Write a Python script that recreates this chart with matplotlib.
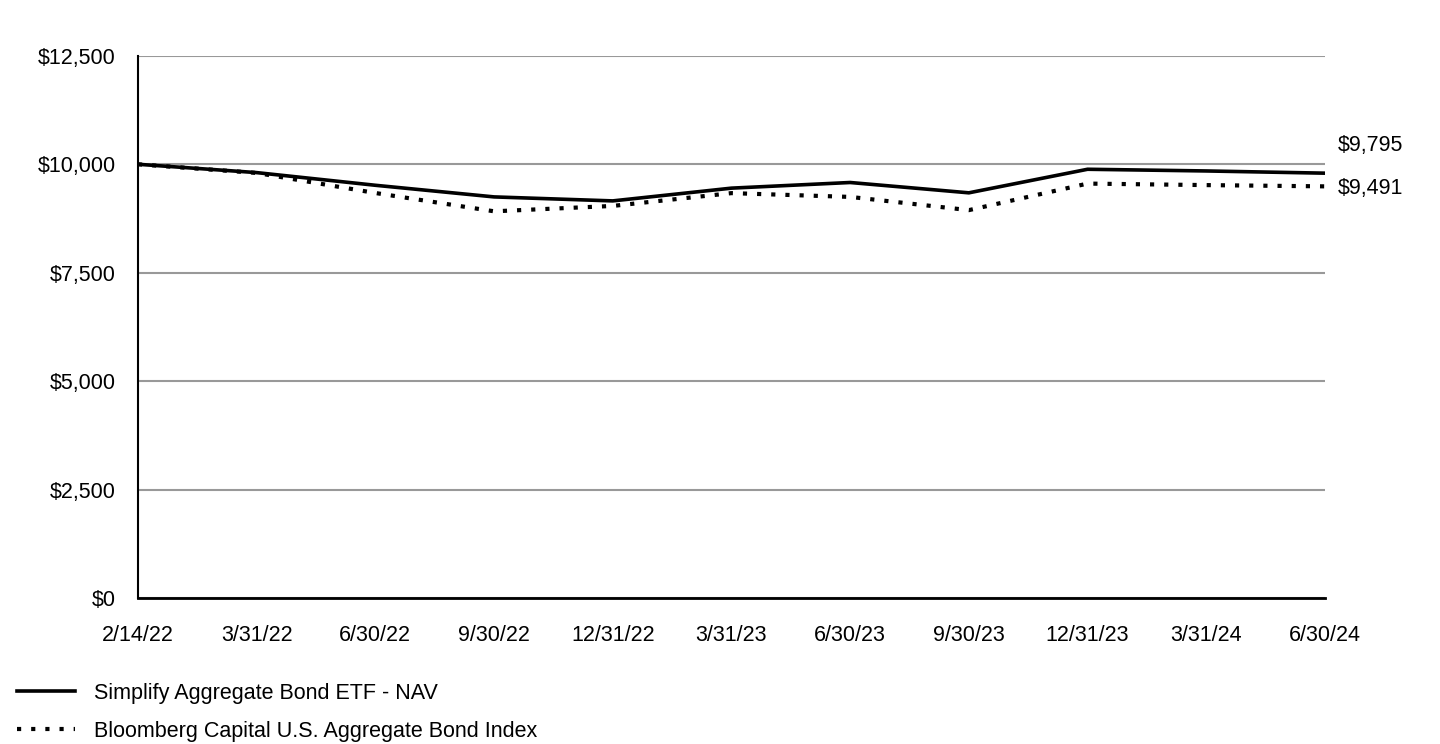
import matplotlib
matplotlib.use("Agg")
import matplotlib.pyplot as plt

plt.rcParams['font.family'] = ['Liberation Sans', 'DejaVu Sans']

# data
dates = ["2/14/22", "3/31/22", "6/30/22", "9/30/22", "12/31/22", "3/31/23",
         "6/30/23", "9/30/23", "12/31/23", "3/31/24", "6/30/24"]
nav = [10000, 9808, 9516, 9248, 9156, 9450, 9580, 9342, 9885, 9846, 9795]
index = [10000, 9800, 9338, 8916, 9040, 9335, 9248, 8943, 9555, 9520, 9491]
yticks = [0, 2500, 5000, 7500, 10000, 12500]

fs = 15.5

fig = plt.figure(figsize=(14.4, 7.44), dpi=100)
ax = fig.add_axes([0.0958, 0.196, 0.8243, 0.729])

x = list(range(len(dates)))
ax.plot(x, nav, color="black", lw=2.6, solid_joinstyle="miter",
        label="Simplify Aggregate Bond ETF - NAV", zorder=3)
ax.plot(x, index, color="black", lw=3, linestyle=(0, (1, 2.4)),
        dash_capstyle="butt", label="Bloomberg Capital U.S. Aggregate Bond Index", zorder=4)

ax.set_xlim(0, len(dates) - 1)
ax.set_ylim(0, 12500)
ax.set_yticks(yticks)
ax.set_yticklabels([f"${v:,}" for v in yticks])
ax.set_xticks(x)
ax.set_xticklabels(dates)
ax.tick_params(axis="both", length=0, labelsize=fs)
ax.tick_params(axis="x", pad=19)
ax.tick_params(axis="y", pad=16)
ax.grid(axis="y", color="#999999", lw=1.5)
ax.set_axisbelow(True)
for s in ["top", "right"]:
    ax.spines[s].set_visible(False)
ax.spines["left"].set_linewidth(1.5)
ax.spines["bottom"].set_linewidth(2)

# end labels
ax.annotate(f"${nav[-1]:,}", (x[-1], nav[-1]), xytext=(13, 28),
            textcoords="offset pixels", fontsize=fs, va="center", ha="left")
ax.annotate(f"${index[-1]:,}", (x[-1], index[-1]), xytext=(13, -2),
            textcoords="offset pixels", fontsize=fs, va="center", ha="left")

fig.legend(loc="upper left", bbox_to_anchor=(-0.0015, 0.108), frameon=False,
           fontsize=fs, handlelength=2.7, handletextpad=0.85, labelspacing=0.78)

fig.savefig("out.png", dpi=100)
